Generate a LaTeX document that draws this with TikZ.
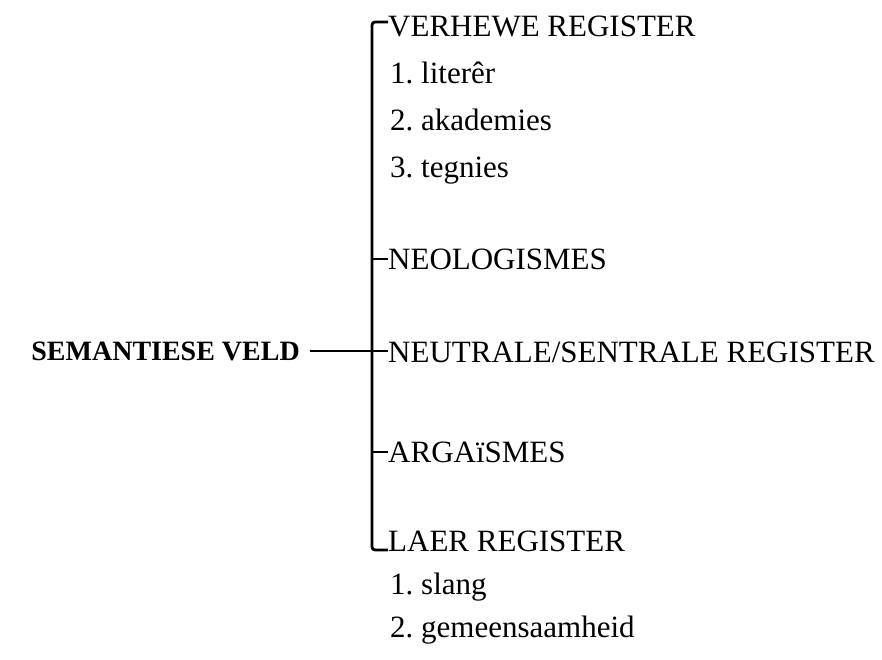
\documentclass[tikz,border=0pt]{standalone}
\usepackage{fontspec}
\setmainfont{Liberation Serif}
\usetikzlibrary{positioning}

\begin{document}
\frenchspacing
\begin{tikzpicture}[x=1pt, y=-1pt,
  item/.style={anchor=base west, inner sep=0pt, font=\fontsize{31}{34}\selectfont},
  sub/.style={item},
  bar/.style={line width=2.8pt, rounded corners=3pt},
  tick/.style={line width=1.4pt}]
\useasboundingbox (0,0) rectangle (882,659);
% root
\node[item, anchor=base east, font=\bfseries\fontsize{28}{32}\selectfont] (veld) at (300,360) {SEMANTIESE VELD};
% categories
\node[item] (verhewe) at (388,36) {VERHEWE REGISTER};
\node[sub] (literer) at (390,83) {1. literêr};
\node[sub] (akademies) at (390,130) {2. akademies};
\node[sub] (tegnies) at (390,177) {3. tegnies};
\node[item] (neo) at (388,269) {NEOLOGISMES};
\node[item] (neutraal) at (388,362) {NEUTRALE/SENTRALE REGISTER};
\node[item] (argaies) at (388,462) {ARGAïSMES};
\node[item] (laer) at (388,551) {LAER REGISTER};
\node[sub] (slang) at (390,594) {1. slang};
\node[sub] (gemeen) at (390,637) {2. gemeensaamheid};
% bar
\coordinate (top) at (372,22);
\coordinate (bot) at (372,550);
\coordinate (j) at (372,351);
\draw[bar] (verhewe.base west |- top) -- (top) -- (bot) -- (laer.base west |- bot);
\draw[tick] (veld.base east) ++(10,-9) -- (j);
\draw[tick] (j) -- (neutraal.base west |- j);
\draw[tick] (neo.base west) ++(-16,-10) -- ++(16,0);
\draw[tick] (argaies.base west) ++(-16,-10) -- ++(16,0);
\end{tikzpicture}
\end{document}
